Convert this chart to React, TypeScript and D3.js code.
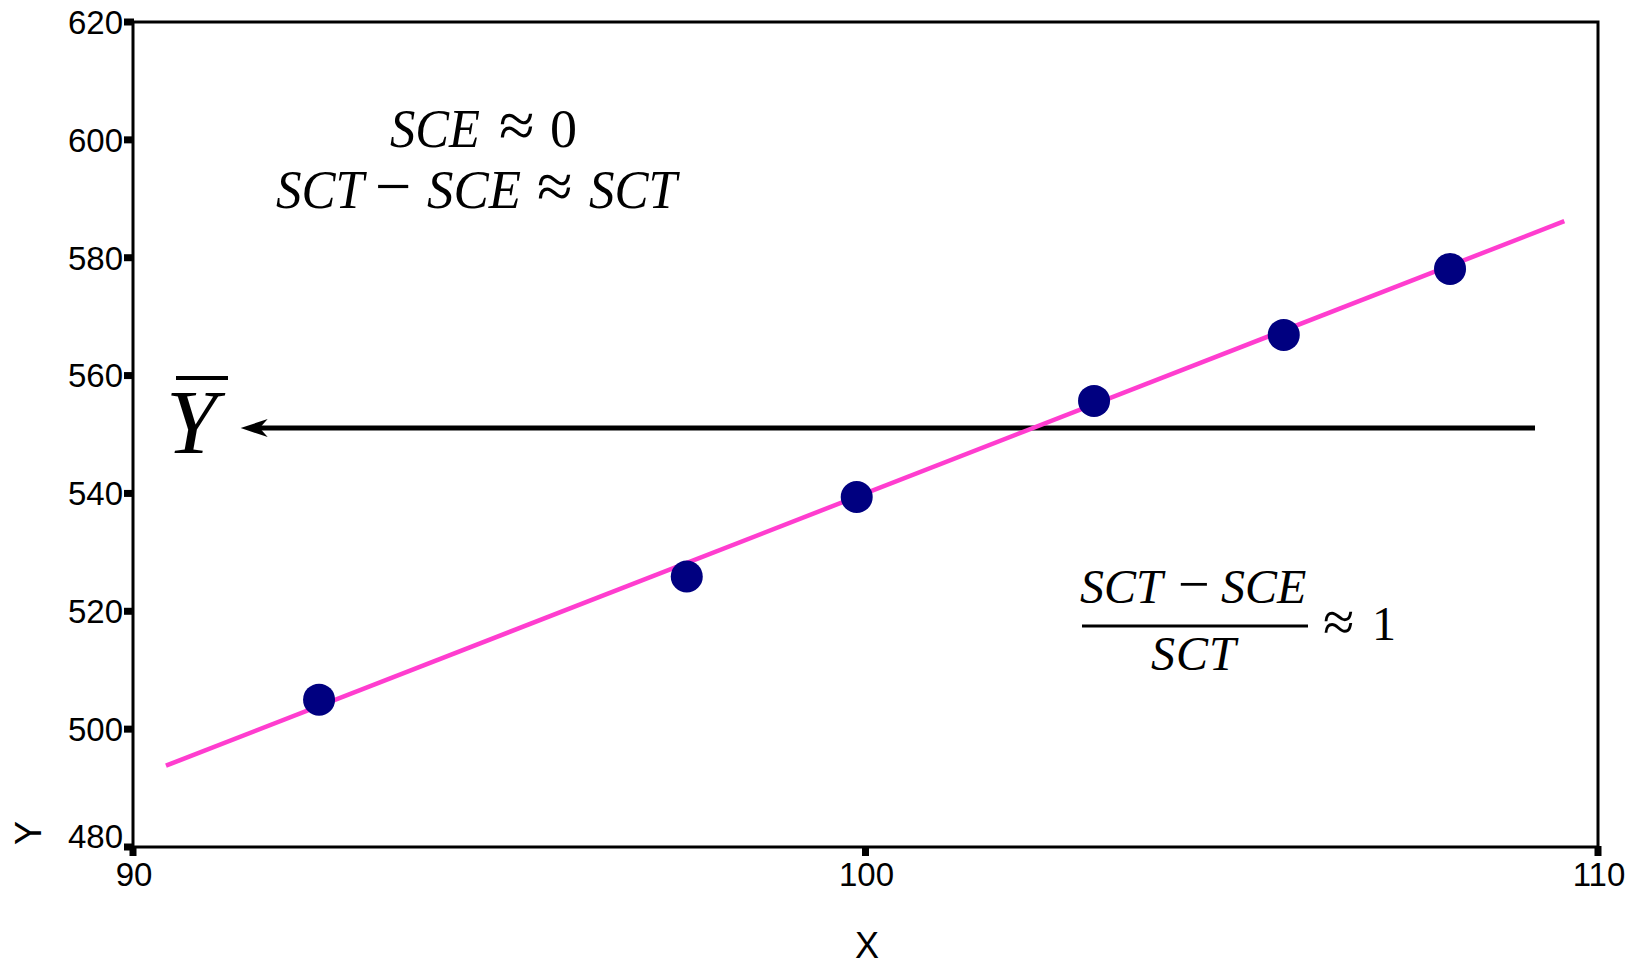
import React from "react";
import * as d3 from "d3";

// Axis ticks
const xTicks = [90, 100, 110];
const yTicks = [480, 500, 520, 540, 560, 580, 600, 620];

// Observed points
const pointX = [92.54, 97.56, 99.88, 103.12, 105.71, 107.98];
const pointY = [505.0, 525.9, 539.4, 555.7, 566.9, 578.1];

// Fitted regression line end points
const fitX = [90.45, 109.54];
const fitY = [493.8, 586.2];

// Mean of Y (horizontal arrow)
const meanY = 551.1;
const meanArrowX = [91.47, 109.14];

const W = 1642;
const H = 967;
const plot = { left: 133, right: 1598, top: 22, bottom: 847 };

const sans = "'Liberation Sans', Arial, sans-serif";
const serif = "'Liberation Serif', 'Times New Roman', serif";

// t: glyphs, x: left edge, it: italic variable, op: operator size factor, w: fitted width
type Piece = { t: string; x: number; it: boolean; op?: number; w?: number };

// formula pieces laid out left to right
const line1: Piece[] = [
  { t: "SCE", x: 390, it: true, w: 90 },
  { t: "≈", x: 499, it: false, op: 1.2 },
  { t: "0", x: 550, it: false },
];
const line2: Piece[] = [
  { t: "SCT", x: 276, it: true, w: 88 },
  { t: "−", x: 375, it: false, op: 1.2 },
  { t: "SCE", x: 427, it: true, w: 94 },
  { t: "≈", x: 537, it: false, op: 1.2 },
  { t: "SCT", x: 589, it: true, w: 88 },
];
const numer: Piece[] = [
  { t: "SCT", x: 1080, it: true },
  { t: "−", x: 1178, it: false, op: 1.17 },
  { t: "SCE", x: 1221, it: true },
];

function Formula({ pieces, y, size }: { pieces: Piece[]; y: number; size: number }) {
  return (
    <g>
      {pieces.map((p, i) => (
        <text
          key={i}
          x={p.x}
          y={y}
          fontFamily={serif}
          fontStyle={p.it ? "italic" : "normal"}
          fontSize={size * (p.op ?? 1)}
          textLength={p.w}
          lengthAdjust={p.w ? "spacingAndGlyphs" : undefined}
          fill="#000"
        >
          {p.t}
        </text>
      ))}
    </g>
  );
}

export default function App() {
  const x = d3.scaleLinear().domain([90, 110]).range([plot.left, plot.right]);
  const y = d3.scaleLinear().domain([480, 620]).range([plot.bottom, plot.top]);

  const fitLine = d3
    .line<number>()
    .x((_, i) => x(fitX[i]))
    .y((_, i) => y(fitY[i]))(fitX);

  const ax0 = x(meanArrowX[0]);
  const ax1 = x(meanArrowX[1]);
  const ay = y(meanY);

  return (
    <svg
      width={W}
      height={H}
      style={{ position: "absolute", left: 0, top: 0, background: "#fff" }}
    >
      {/* plot frame */}
      <rect
        x={plot.left}
        y={plot.top}
        width={plot.right - plot.left}
        height={plot.bottom - plot.top}
        fill="none"
        stroke="#000"
        strokeWidth={3}
      />

      {/* y ticks */}
      {yTicks.map((t) => (
        <g key={"y" + t}>
          <rect x={plot.left - 9} y={y(t) - 3.5} width={10} height={7} fill="#000" />
          <text
            x={plot.left - 10}
            y={t === 480 ? y(t) + 1 : y(t)}
            dy={t === 480 ? "0" : "0.36em"}
            textAnchor="end"
            fontFamily={sans}
            fontSize={33}
            fill="#000"
          >
            {t}
          </text>
        </g>
      ))}

      {/* x ticks */}
      {xTicks.map((t) => (
        <g key={"x" + t}>
          <rect x={x(t) - 3.5} y={plot.bottom - 1} width={7} height={10} fill="#000" />
          <text
            x={x(t) + 1}
            y={886}
            textAnchor="middle"
            fontFamily={sans}
            fontSize={33}
            fill="#000"
          >
            {t}
          </text>
        </g>
      ))}

      {/* axis titles */}
      <text
        x={867}
        y={958}
        textAnchor="middle"
        fontFamily={sans}
        fontSize={36}
        fill="#000"
      >
        X
      </text>
      <text
        transform="translate(41,833) rotate(-90)"
        textAnchor="middle"
        fontFamily={sans}
        fontSize={36}
        fill="#000"
      >
        Y
      </text>

      {/* mean line with arrow */}
      <line x1={ax0 + 18} y1={ay} x2={ax1} y2={ay} stroke="#000" strokeWidth={5} />
      <path
        d={`M${ax0},${ay} L${ax0 + 27},${ay - 9} L${ax0 + 19},${ay} L${ax0 + 27},${ay + 9} Z`}
        fill="#000"
      />

      {/* Y bar label */}
      <line x1={176} y1={378} x2={228} y2={378} stroke="#000" strokeWidth={4} />
      <text x={166} y={453} fontFamily={serif} fontStyle="italic" fontSize={92} fill="#000">
        Y
      </text>

      {/* regression line */}
      <path d={fitLine ?? ""} fill="none" stroke="#ff3dcf" strokeWidth={4.5} />

      {/* points */}
      {pointX.map((px, i) => (
        <circle key={i} cx={x(px)} cy={y(pointY[i])} r={16} fill="#000080" />
      ))}

      {/* annotation: top-left */}
      <Formula pieces={line1} y={147} size={54} />
      <Formula pieces={line2} y={208} size={54} />

      {/* annotation: fraction */}
      <Formula pieces={numer} y={603} size={48} />
      <line x1={1082} y1={626} x2={1308} y2={626} stroke="#000" strokeWidth={3} />
      <text x={1151} y={670} fontFamily={serif} fontStyle="italic" fontSize={48} letterSpacing={1} fill="#000">
        SCT
      </text>
      <text x={1323} y={641} fontFamily={serif} fontSize={57} fill="#000">
        ≈
      </text>
      <text x={1372} y={640} fontFamily={serif} fontSize={48} fill="#000">
        1
      </text>
    </svg>
  );
}
